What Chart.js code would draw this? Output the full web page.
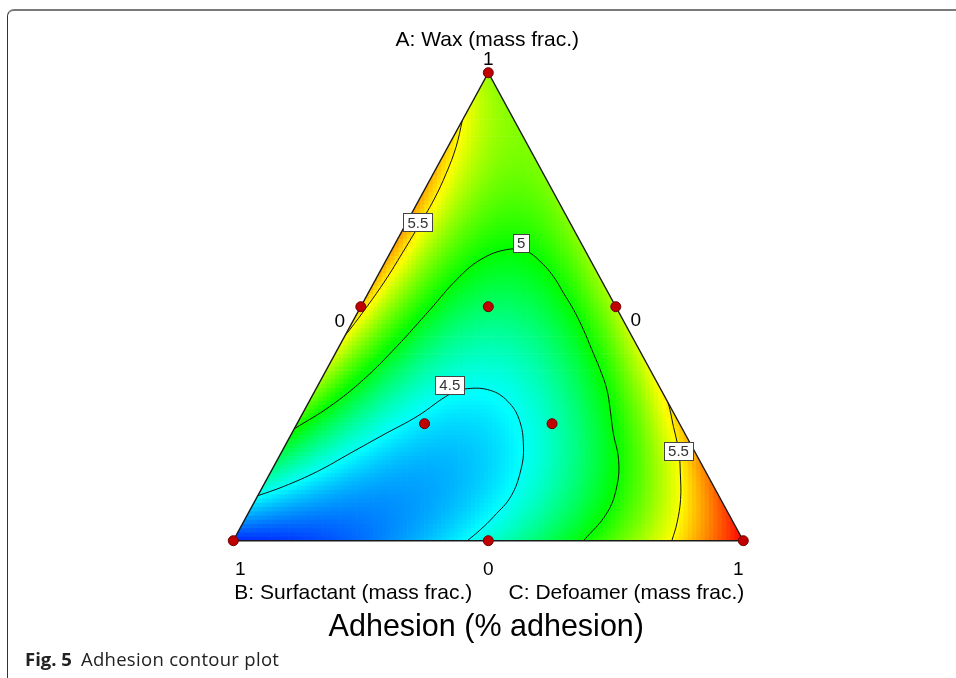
<!DOCTYPE html>
<html>
<head>
<meta charset="utf-8">
<script src="https://cdn.jsdelivr.net/npm/chart.js@4.4.1/dist/chart.umd.min.js"></script>
<style>
  html, body { margin: 0; padding: 0; background: #fff; }
  body { width: 956px; height: 678px; position: relative; overflow: hidden; }
  #frame { position: absolute; left: 7px; top: 9px; width: 1000px; height: 720px;
    border-top: 2px solid #7a7a7a; border-left: 1px solid #333; border-top-left-radius: 7px; }
  #plot { position: absolute; left: 0; top: 0; }
  #caption { position: absolute; left: 25px; top: 646px; font-family: 'Open Sans', sans-serif;
    font-size: 18.5px; letter-spacing: 0.3px; color: #222; white-space: nowrap; }
  #caption b { margin-right: 9px; letter-spacing: 0; }
</style>
</head>
<body>
<div id="frame"></div>
<canvas id="plot" width="956" height="678"></canvas>
<div id="caption"><b>Fig. 5</b>Adhesion contour plot</div>
<script>
// predicted adhesion at the simplex lattice (vertices, edge midpoints, centroid)
const latticeLabels = ['A', 'B', 'C', 'AB', 'AC', 'BC', 'ABC'];
const latticeAdhesion = [5.30, 4.08, 6.00, 5.59, 5.35, 4.58, 4.53];
const colorRange = [4.0, 6.0];

// design runs: A wax, B surfactant, C defoamer (mass fractions)
const runWax =        [1, 0, 0, 0.5, 0.5, 0,   0.5,  0.25, 0.25];
const runSurfactant = [0, 1, 0, 0.5, 0,   0.5, 0.25, 0.5,  0.25];
const runDefoamer =   [0, 0, 1, 0,   0.5, 0.5, 0.25, 0.25, 0.5];

// contour lines, [A, C] pairs
const contour45 = [[0.096, 0], [0.116, 0.041], [0.148, 0.091], [0.187, 0.136], [0.227, 0.182],
  [0.266, 0.228], [0.314, 0.269], [0.325, 0.297], [0.321, 0.344], [0.298, 0.389], [0.259, 0.431],
  [0.202, 0.468], [0.152, 0.488], [0.095, 0.497], [0.052, 0.485], [0.024, 0.473], [0, 0.459]];
const contour50 = [[0.239, 0], [0.287, 0.046], [0.344, 0.083], [0.415, 0.113], [0.494, 0.139],
  [0.558, 0.159], [0.600, 0.184], [0.622, 0.225], [0.618, 0.266], [0.597, 0.303], [0.565, 0.345],
  [0.529, 0.383], [0.494, 0.420], [0.451, 0.461], [0.408, 0.499], [0.365, 0.537], [0.323, 0.571],
  [0.280, 0.599], [0.230, 0.630], [0.173, 0.669], [0.116, 0.694], [0.059, 0.703], [0, 0.687]];
const contour55Left = [[0.898, 0], [0.842, 0.016], [0.785, 0.025], [0.728, 0.029], [0.671, 0.027],
  [0.614, 0.024], [0.557, 0.020], [0.500, 0.012], [0.451, 0.003], [0.440, 0]];
const contour55Right = [[0.328, 0.672], [0.301, 0.700], [0.244, 0.741], [0.191, 0.778],
  [0.145, 0.804], [0.088, 0.833], [0.038, 0.851], [0, 0.860]];

const contourLabels = ['5.5', '5', '4.5', '5.5'];
const contourLabelAt = [[0.680, 0.022], [0.637, 0.246], [0.333, 0.258], [0.192, 0.777]];

const vertexTicks = ['1', '0', '0', '1', '0', '1'];
const axisTitles = ['A: Wax (mass frac.)', 'B: Surfactant (mass frac.)', 'C: Defoamer (mass frac.)'];
const chartTitle = 'Adhesion (% adhesion)';

// ternary (A, C) -> plot coords
const toXY = ([a, c]) => ({ x: c + a / 2, y: a });

// special cubic Scheffe model from the lattice values
const [yA, yB, yC, yAB, yAC, yBC, yABC] = latticeAdhesion;
const bAB = 4 * yAB - 2 * yA - 2 * yB;
const bAC = 4 * yAC - 2 * yA - 2 * yC;
const bBC = 4 * yBC - 2 * yB - 2 * yC;
const bABC = 27 * yABC - 12 * (yAB + yAC + yBC) + 3 * (yA + yB + yC);

function adhesion(a, b, c) {
  a = Math.max(a, 0); b = Math.max(b, 0); c = Math.max(c, 0);
  const s = a + b + c;
  a /= s; b /= s; c /= s;
  return yA * a + yB * b + yC * c + bAB * a * b + bAC * a * c + bBC * b * c + bABC * a * b * c;
}

function rainbow(v) {
  let t = (v - colorRange[0]) / (colorRange[1] - colorRange[0]);
  t = Math.min(1, Math.max(0, t)) * 4;
  let r = 0, g = 0, b = 0;
  if (t < 1) { g = t; b = 1; }
  else if (t < 2) { g = 1; b = 2 - t; }
  else if (t < 3) { r = t - 2; g = 1; }
  else { r = 1; g = 4 - t; }
  return `rgb(${Math.round(r * 255)},${Math.round(g * 255)},${Math.round(b * 255)})`;
}

// colour cells over the simplex
const NX = 120, NY = 110;
const fieldPoints = [];
const fieldColors = [];
for (let j = 0; j < NY; j++) {
  const a = (j + 0.5) / NY;
  for (let i = 0; i < NX; i++) {
    const x = (i + 0.5) / NX;
    const c = x - a / 2;
    const b = 1 - a - c;
    if (c < -0.03 || b < -0.03) continue;
    fieldPoints.push({ x, y: a });
    fieldColors.push(rainbow(adhesion(a, b, c)));
  }
}

const CLIPPED = [2, 3, 4, 5, 6];

const triangleClip = {
  id: 'triangleClip',
  beforeDatasetDraw(chart, args) {
    if (!CLIPPED.includes(args.index)) return;
    const { ctx, scales: { x, y } } = chart;
    ctx.save();
    ctx.beginPath();
    ctx.moveTo(x.getPixelForValue(0), y.getPixelForValue(0));
    ctx.lineTo(x.getPixelForValue(1), y.getPixelForValue(0));
    ctx.lineTo(x.getPixelForValue(0.5), y.getPixelForValue(1));
    ctx.closePath();
    ctx.clip();
  },
  afterDatasetDraw(chart, args) {
    if (CLIPPED.includes(args.index)) chart.ctx.restore();
  }
};

const ternaryText = {
  id: 'ternaryText',
  afterDatasetsDraw(chart) {
    const { ctx, scales: { x, y } } = chart;
    const px = (a, c) => [x.getPixelForValue(c + a / 2), y.getPixelForValue(a)];
    ctx.save();

    // contour labels
    ctx.font = '15px "Liberation Sans", Arial, sans-serif';
    ctx.textAlign = 'center';
    ctx.textBaseline = 'middle';
    contourLabels.forEach((txt, i) => {
      const [cx, cy] = px(...contourLabelAt[i]);
      const w = Math.round(ctx.measureText(txt).width + 8);
      const h = 18;
      const bx = Math.round(cx - w / 2), by = Math.round(cy - h / 2);
      ctx.fillStyle = '#fff';
      ctx.fillRect(bx, by, w, h);
      ctx.strokeStyle = '#444';
      ctx.lineWidth = 1;
      ctx.strokeRect(bx + 0.5, by + 0.5, w, h);
      ctx.fillStyle = '#333';
      ctx.fillText(txt, cx, cy + 1.5);
    });

    // vertex / midpoint ticks
    const [tx, ty] = px(1, 0);
    const [lx, ly] = px(0, 0);
    const [rx, ry] = px(0, 1);
    const [mlx, mly] = px(0.5, 0);
    const [mrx, mry] = px(0.5, 0.5);
    const [mbx, mby] = px(0, 0.5);
    ctx.fillStyle = '#000';
    ctx.textBaseline = 'alphabetic';
    ctx.font = '19px "Liberation Sans", Arial, sans-serif';
    const tickPos = [
      [tx, ty - 8], [mlx - 21, mly + 20], [mrx + 20, mry + 19],
      [lx + 7, ly + 34], [mbx, mby + 34], [rx - 5, ry + 34]
    ];
    vertexTicks.forEach((t, i) => ctx.fillText(t, tickPos[i][0], tickPos[i][1]));

    // axis titles
    ctx.font = '21px "Liberation Sans", Arial, sans-serif';
    ctx.fillText(axisTitles[0], tx - 1, ty - 27);
    ctx.textAlign = 'left';
    ctx.fillText(axisTitles[1], lx + 1, ly + 58);
    ctx.textAlign = 'right';
    ctx.fillText(axisTitles[2], rx + 1, ry + 58);

    ctx.textAlign = 'center';
    ctx.font = '30.5px "Liberation Sans", Arial, sans-serif';
    ctx.fillText(chartTitle, tx - 2, ly + 95);
    ctx.restore();
  }
};

const contourStyle = {
  showLine: true, pointRadius: 0, borderColor: '#111', borderWidth: 1,
  tension: 0.4, order: 2, clip: false
};

new Chart(document.getElementById('plot'), {
  type: 'scatter',
  data: {
    datasets: [
      {
        label: 'Design points',
        data: runWax.map((a, i) => toXY([a, runDefoamer[i]])),
        pointRadius: 5,
        pointBackgroundColor: '#c00000',
        pointBorderColor: '#6b0000',
        pointBorderWidth: 1,
        order: 0,
        clip: false
      },
      {
        label: 'Outline',
        data: [toXY([0, 0]), toXY([0, 1]), toXY([1, 0]), toXY([0, 0])],
        showLine: true, pointRadius: 0, borderColor: '#1a1a1a', borderWidth: 1.4,
        tension: 0, order: 1, clip: false
      },
      { label: '4.5', data: contour45.map(toXY), ...contourStyle },
      { label: '5', data: contour50.map(toXY), ...contourStyle },
      { label: '5.5 left', data: contour55Left.map(toXY), ...contourStyle },
      { label: '5.5 right', data: contour55Right.map(toXY), ...contourStyle },
      {
        label: 'Adhesion',
        data: fieldPoints,
        pointStyle: 'rect',
        pointRadius: 3.5,
        pointBackgroundColor: fieldColors,
        pointBorderWidth: 0,
        showLine: false,
        order: 3,
        clip: false
      }
    ]
  },
  options: {
    responsive: false,
    animation: false,
    events: [],
    layout: { padding: { left: 233.3, right: 212.7, top: 72.7, bottom: 137.3 } },
    scales: {
      x: { type: 'linear', min: 0, max: 1, display: false },
      y: { type: 'linear', min: 0, max: 1, display: false }
    },
    plugins: { legend: { display: false }, tooltip: { enabled: false } }
  },
  plugins: [triangleClip, ternaryText]
});
</script>
</body>
</html>
